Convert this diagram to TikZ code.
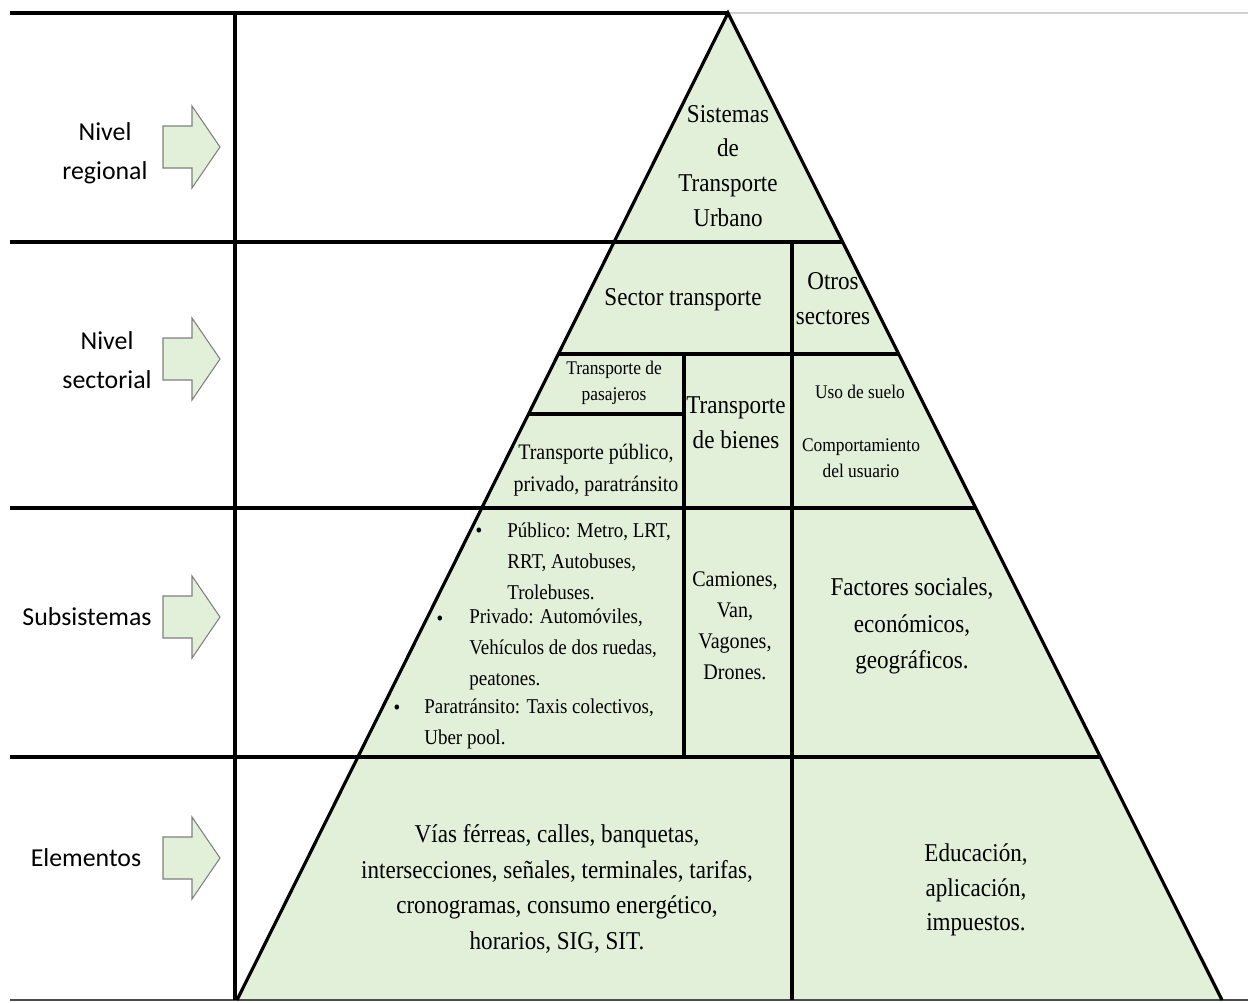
\documentclass[tikz,border=0pt]{standalone}
\usepackage{fontspec}
\setmainfont{Liberation Serif}[FakeStretch=0.9]
\newfontfamily\calibri{Carlito}
\usepackage{tikz}

\definecolor{verde}{HTML}{E2EFD9}
\definecolor{gris}{HTML}{7F7F7F}
\definecolor{grisclaro}{HTML}{D0D0D0}

% flecha de bloque a la izquierda de cada nivel
\newcommand{\flecha}[1]{%
  \draw[flecha] (163,#1-21) -- (192,#1-21) -- (192,#1-41) -- (220,#1)
    -- (192,#1+41) -- (192,#1+21) -- (163,#1+21) -- cycle;}

\begin{document}
\begin{tikzpicture}[x=0.02cm,y=-0.02cm,
  grueso/.style={line width=2.8pt},
  medio/.style={line width=1.8pt},
  flecha/.style={draw=gris,fill=verde,line width=0.6pt},
  nivel/.style={font=\calibri\fontsize{14.7}{22.1}\selectfont,align=center,inner sep=0pt},
  grande/.style={font=\fontsize{14.6}{19.8}\selectfont,align=center,inner sep=0pt},
  mediano/.style={font=\fontsize{12.6}{18.1}\selectfont,align=center,inner sep=0pt},
  chico/.style={font=\fontsize{11}{15}\selectfont,align=center,inner sep=0pt},
  lista/.style={font=\fontsize{12}{17.8}\selectfont,align=left,inner sep=0pt,anchor=north west},
  punto/.style={font=\fontsize{12}{14}\selectfont,inner sep=0pt}]

\useasboundingbox (0,0) rectangle (1248,1002);

% piramide
\fill[verde] (728,13) -- (237,1000) -- (1222,1000) -- cycle;

% lineas de los niveles
\draw[grueso] (10,13) -- (728,13);
\draw[grisclaro,line width=1.2pt] (728,13) -- (1248,13);
\draw[grueso] (10,242) -- (842,242);
\draw[grueso] (10,508) -- (976,508);
\draw[grueso] (10,757) -- (1100,757);
\draw[gris!60!black,line width=1pt] (10,1000) -- (1248,1000);
\draw[medio] (235,13) -- (235,1000);

% bordes de la piramide
\draw[medio] (237,1000) -- (728,13) -- (1222,1000);

% divisiones internas
\draw[medio] (792,242) -- (792,1000);
\draw[grueso] (558,354) -- (898,354);
\draw[medio] (684,354) -- (684,757);
\draw[grueso] (529,414) -- (684,414);

% flechas
\flecha{147}
\flecha{359}
\flecha{617}
\flecha{858}

% etiquetas de nivel
\node[nivel] (regional) at (105,153) {Nivel\\regional};
\node[nivel] (sectorial) at (107,360) {Nivel\\sectorial};
\node[nivel] (subsistemas) at (87,617) {Subsistemas};
\node[nivel] (elementos) at (86,858) {Elementos};

% textos de la piramide
\node[grande] (sistemas) at (728,166) {Sistemas\\de\\Transporte\\Urbano};
\node[grande] (sector) at (683,300) {Sector transporte};
\node[grande] (otros) at (833,299) {Otros\\sectores};
\node[chico] (pasajeros) at (614,383) {Transporte de\\pasajeros};
\node[grande] (bienes) at (736,423) {Transporte\\de bienes};
\node[mediano] (publico) at (596,470) {Transporte público,\\privado, paratránsito};
\node[chico] (suelo) at (860,392) {Uso de suelo};
\node[chico] (usuario) at (861,458) {Comportamiento\\del usuario};

\node[punto] (p1) at (479,533) {\textbullet};
\node[lista] (lista1) at (507,522) {Público: Metro, LRT,\\RRT, Autobuses,\\Trolebuses.};
\node[punto] (p2) at (440,621) {\textbullet};
\node[lista] (lista2) at (469,608) {Privado: Automóviles,\\Vehículos de dos ruedas,\\peatones.};
\node[punto] (p3) at (397,710) {\textbullet};
\node[lista] (lista3) at (424,698) {Paratránsito: Taxis colectivos,\\Uber pool.};

\node[font=\fontsize{12.7}{17.6}\selectfont,align=center,inner sep=0pt] (camiones) at (735,626) {Camiones,\\Van,\\Vagones,\\Drones.};
\node[grande,font=\fontsize{14.6}{20.7}\selectfont] (factores) at (912,626) {Factores sociales,\\económicos,\\geográficos.};
\node[grande,font=\fontsize{14.6}{20.4}\selectfont] (vias) at (557,889) {Vías férreas, calles, banquetas,\\intersecciones, señales, terminales, tarifas,\\cronogramas, consumo energético,\\horarios, SIG, SIT.};
\node[grande] (educacion) at (976,890) {Educación,\\aplicación,\\impuestos.};

\end{tikzpicture}
\end{document}
